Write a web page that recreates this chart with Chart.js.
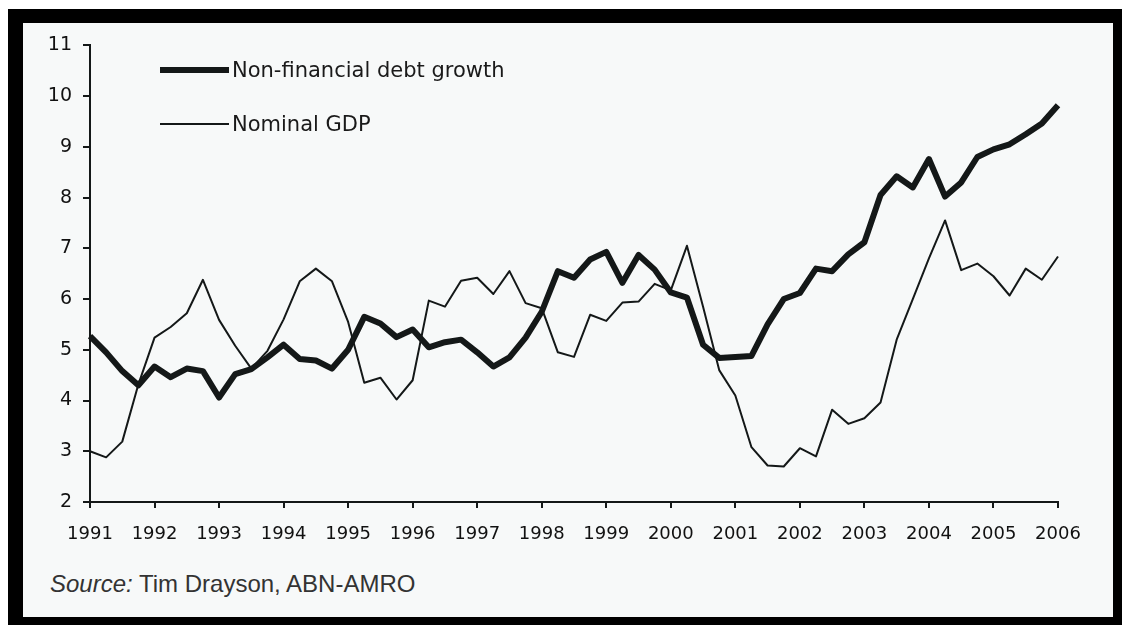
<!DOCTYPE html>
<html>
<head>
<meta charset="utf-8">
<script src="https://cdn.jsdelivr.net/npm/chart.js@4/dist/chart.umd.min.js"></script>
<style>
  body { margin: 0; background: #ffffff; width: 1122px; height: 625px; overflow: hidden; position: relative; }
  #frame { position: absolute; left: 8px; top: 9px; width: 1114px; height: 616px; background: #000; }
  #inner { position: absolute; left: 23px; top: 23px; width: 1090px; height: 594px; background: #f7f9f9; }
  #chart { position: absolute; left: 23px; top: 23px; }
  #source { position: absolute; left: 50px; top: 572px; font-family: "Liberation Sans", Arial, sans-serif; font-size: 24px; line-height: 24px; color: #333; white-space: nowrap; }
</style>
</head>
<body>
<div id="frame"></div>
<div id="inner"></div>
<canvas id="chart" width="1090" height="540"></canvas>
<div id="source"><i>Source:</i> Tim Drayson, ABN-AMRO</div>
<script>
// Quarterly observations, 1991 Q1 to 2006 Q1
var years = [1991, 1992, 1993, 1994, 1995, 1996, 1997, 1998, 1999, 2000, 2001, 2002, 2003, 2004, 2005, 2006];
var quarters = [];
years.forEach(function (y) {
    for (var q = 1; q <= 4; q++) {
        if (y === 2006 && q > 1) break;
        quarters.push(y + ' Q' + q);
    }
});

// Non-financial debt growth, % y/y
var debtGrowth = [
    5.27, 4.95, 4.58, 4.30, 4.67, 4.46, 4.63, 4.58, 4.06, 4.52, 4.62, 4.85,
    5.10, 4.82, 4.79, 4.63, 5.00, 5.65, 5.52, 5.25, 5.40, 5.05, 5.15, 5.20,
    4.95, 4.67, 4.85, 5.24, 5.75, 6.55, 6.42, 6.78, 6.93, 6.32, 6.87, 6.58,
    6.13, 6.03, 5.10, 4.84, 4.86, 4.88, 5.50, 6.00, 6.12, 6.60, 6.55, 6.88,
    7.12, 8.05, 8.42, 8.20, 8.76, 8.02, 8.30, 8.80, 8.95, 9.05, 9.25, 9.46,
    9.82
];

// Nominal GDP growth, % y/y
var nominalGDP = [
    3.00, 2.88, 3.19, 4.32, 5.24, 5.45, 5.72, 6.38, 5.59, 5.08, 4.63, 4.98,
    5.60, 6.35, 6.60, 6.35, 5.55, 4.35, 4.45, 4.02, 4.40, 5.97, 5.85, 6.36,
    6.42, 6.10, 6.55, 5.92, 5.82, 4.95, 4.86, 5.69, 5.57, 5.93, 5.95, 6.30,
    6.17, 7.05, 5.85, 4.60, 4.10, 3.08, 2.72, 2.70, 3.06, 2.90, 3.82, 3.54,
    3.65, 3.96, 5.20, 6.00, 6.80, 7.55, 6.57, 6.70, 6.45, 6.07, 6.60, 6.38,
    6.84
];

var yMin = 2, yMax = 11;
var ink = '#141818';

// legend drawn inside the plot, top left
var legendPlugin = {
    id: 'innerLegend',
    afterDraw: function (chart) {
        var ctx = chart.ctx;
        var rows = [47, 101];
        ctx.save();
        chart.data.datasets.forEach(function (ds, i) {
            ctx.strokeStyle = ds.borderColor;
            ctx.lineWidth = ds.borderWidth;
            ctx.lineCap = 'butt';
            ctx.beginPath();
            ctx.moveTo(137, rows[i]);
            ctx.lineTo(206, rows[i]);
            ctx.stroke();
            ctx.fillStyle = '#1a1a1a';
            ctx.font = '21px "DejaVu Sans"';
            ctx.textBaseline = 'middle';
            ctx.fillText(ds.label, 209, rows[i] + 2);
        });
        ctx.restore();
    }
};

var chart = new Chart(document.getElementById('chart'), {
    type: 'line',
    data: {
        labels: quarters,
        datasets: [{
            label: 'Non-financial debt growth',
            data: debtGrowth,
            borderColor: ink,
            borderWidth: 6,
            pointRadius: 0,
            tension: 0,
            borderJoinStyle: 'round'
        }, {
            label: 'Nominal GDP',
            data: nominalGDP,
            borderColor: ink,
            borderWidth: 2,
            pointRadius: 0,
            tension: 0,
            borderJoinStyle: 'round'
        }]
    },
    options: {
        responsive: false,
        devicePixelRatio: 1,
        animation: false,
        layout: { padding: { top: 10, right: 55, left: 0, bottom: 0 } },
        plugins: { legend: { display: false }, tooltip: { enabled: false } },
        scales: {
            x: {
                type: 'category',
                offset: false,
                afterFit: function (scale) { scale.height = 61; },
                border: { display: true, color: ink, width: 2 },
                grid: { drawOnChartArea: false, drawTicks: true, tickLength: 6, color: ink, lineWidth: 2 },
                ticks: {
                    autoSkip: false,
                    maxRotation: 0,
                    padding: 16,
                    color: '#111',
                    font: { family: 'DejaVu Sans', size: 18, weight: '500' },
                    callback: function (val, idx) {
                        var lab = quarters[idx];
                        return lab.slice(-2) === 'Q1' ? lab.slice(0, 4) : null;
                    }
                }
            },
            y: {
                min: yMin,
                max: yMax,
                afterFit: function (scale) { scale.width = 67; },
                border: { display: true, color: ink, width: 2 },
                grid: { drawOnChartArea: false, drawTicks: true, tickLength: 7, color: ink, lineWidth: 2 },
                ticks: {
                    stepSize: 1,
                    padding: 11,
                    color: '#111',
                    font: { family: 'DejaVu Sans', size: 19 }
                }
            }
        }
    },
    plugins: [legendPlugin]
});
</script>
</body>
</html>
